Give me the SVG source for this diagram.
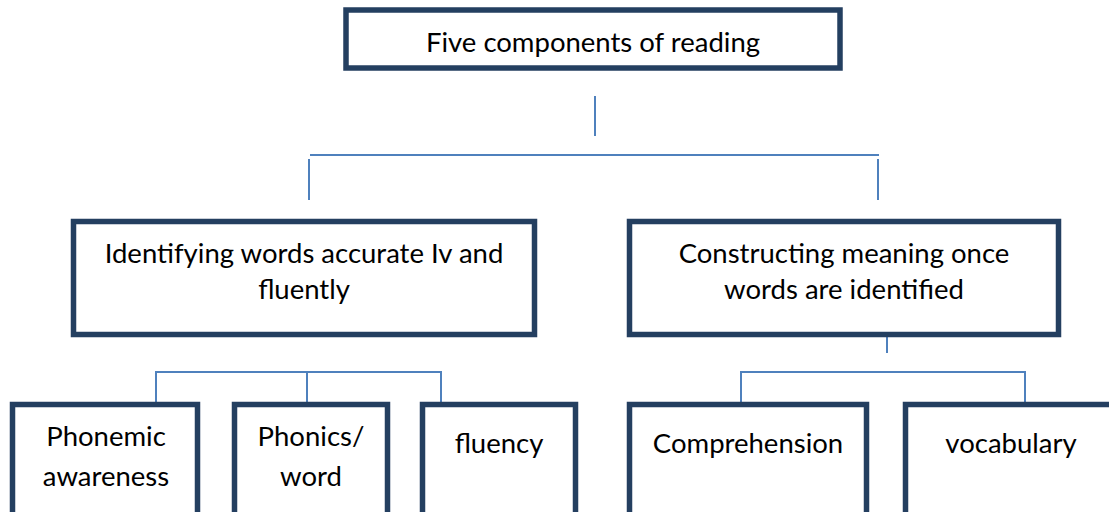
<svg xmlns="http://www.w3.org/2000/svg" width="1109" height="512" viewBox="0 0 1109 512">
<style>
.box{fill:#fff;stroke:#243F60;stroke-width:5.5}
.lbl{font-family:Lato,"Liberation Sans",sans-serif;font-size:27.5px;fill:#000;text-anchor:middle}
.con{stroke:#4F81BD;stroke-width:2;fill:none}
</style>
<rect width="1109" height="512" fill="#fff"/>
<g id="connectors">
<line class="con" x1="595" y1="96" x2="595" y2="136"/>
<line class="con" x1="310" y1="155" x2="879" y2="155"/>
<line class="con" x1="309" y1="159" x2="309" y2="200"/>
<line class="con" x1="878" y1="159" x2="878" y2="200"/>
<line class="con" x1="887" y1="317" x2="887" y2="353"/>
<polyline class="con" points="741,413 741,372 1025,372 1025,413"/>
<polyline class="con" points="156,414 156,372 441,372 441,414"/>
<line class="con" x1="307" y1="372" x2="307" y2="414"/>
</g>
<g id="root"><rect class="box" x="346" y="10" width="494" height="58"/><text class="lbl" x="593" y="52">Five components of reading</text></g>
<g id="identify"><rect class="box" x="73.5" y="221.5" width="461" height="113"/><text class="lbl" x="304" y="263">Identifying words accurate Iv and</text><text class="lbl" x="304" y="299">fluently</text></g>
<g id="construct"><rect class="box" x="629.5" y="221.5" width="429" height="113"/><text class="lbl" x="844" y="263">Constructing meaning once</text><text class="lbl" x="844" y="299">words are identified</text></g>
<g id="phonemic"><rect class="box" x="12.5" y="404.5" width="185" height="115"/><text class="lbl" x="106" y="446">Phonemic</text><text class="lbl" x="106" y="486">awareness</text></g>
<g id="phonics"><rect class="box" x="234.5" y="404.5" width="153" height="115"/><text class="lbl" x="311" y="446">Phonics/</text><text class="lbl" x="311" y="486">word</text></g>
<g id="fluency"><rect class="box" x="422.5" y="404.5" width="153" height="115"/><text class="lbl" x="499" y="453">fluency</text></g>
<g id="comprehension"><rect class="box" x="629.5" y="404.5" width="237" height="115"/><text class="lbl" x="748" y="453">Comprehension</text></g>
<g id="vocabulary"><rect class="box" x="905.5" y="404.5" width="220" height="115"/><text class="lbl" x="1011" y="453">vocabulary</text></g>
</svg>
